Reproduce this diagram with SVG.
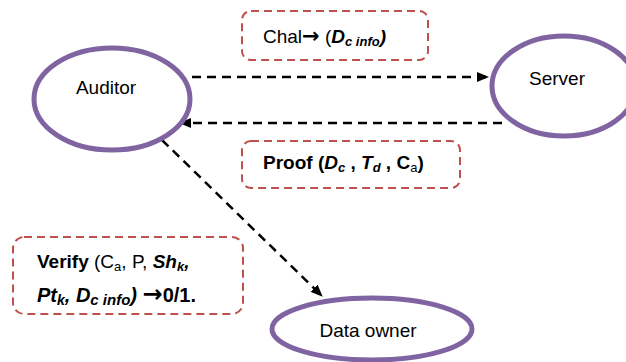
<svg xmlns="http://www.w3.org/2000/svg" width="626" height="362" viewBox="0 0 626 362">
<defs>
<style>
.node{fill:#fff;stroke:#8064A2;stroke-width:5}
.lbl{font-family:"Liberation Sans",Arial,sans-serif;font-size:19px;fill:#000}
.box{fill:none;stroke:#C0504D;stroke-width:2;stroke-dasharray:8 5}
.edge{fill:none;stroke:#000;stroke-width:2.5;stroke-dasharray:9 6}
.t{font-family:"Liberation Sans",Arial,sans-serif;font-size:19px;fill:#000}
.b{font-weight:bold}
.i{font-style:italic}
.s{font-size:13px}
.ar{font-family:"DejaVu Sans",sans-serif;font-weight:bold;font-size:21px}
</style>
<marker id="ah" markerWidth="12" markerHeight="10" refX="11" refY="5" orient="auto" markerUnits="userSpaceOnUse">
<path d="M0,0 L12,5 L0,10 Z" fill="#000"/>
</marker>
</defs>
<g id="connectors">
<line class="edge" x1="192" y1="77" x2="488" y2="77" marker-end="url(#ah)"/>
<line class="edge" x1="502" y1="123" x2="180" y2="123" marker-end="url(#ah)"/>
<line class="edge" x1="162" y1="140" x2="322" y2="296" marker-end="url(#ah)"/>
</g>
<g id="auditor">
<ellipse class="node" cx="112" cy="99" rx="78" ry="51"/>
<text class="lbl" x="106" y="94" text-anchor="middle">Auditor</text>
</g>
<g id="server">
<ellipse class="node" cx="564" cy="86" rx="72" ry="50"/>
<text class="lbl" x="557" y="85" text-anchor="middle">Server</text>
</g>
<g id="data-owner">
<ellipse class="node" cx="372" cy="329" rx="100" ry="31"/>
<text class="lbl" x="368" y="337" text-anchor="middle">Data owner</text>
</g>
<g id="label-chal">
<rect class="box" x="242" y="11" width="186" height="49" rx="9"/>
<text class="t" x="263" y="43">Chal<tspan class="ar">→</tspan> (<tspan class="b i">D</tspan><tspan class="b i s" dy="3">c info</tspan><tspan class="b i" dy="-3">)</tspan></text>
</g>
<g id="label-proof">
<rect class="box" x="242" y="141" width="218" height="47" rx="9"/>
<text class="t b" x="263" y="169">Proof (<tspan class="i">D</tspan><tspan class="i s" dy="3">c</tspan><tspan dy="-3"> , </tspan><tspan class="i">T</tspan><tspan class="i s" dy="3">d</tspan><tspan dy="-3"> , C</tspan><tspan class="s" dy="3" style="font-weight:normal">a</tspan><tspan dy="-3">)</tspan></text>
</g>
<g id="label-verify">
<rect class="box" x="13" y="237" width="230" height="77" rx="11"/>
<text class="t" x="37" y="268"><tspan class="b">Verify</tspan> (C<tspan class="s" dy="3">a</tspan><tspan dy="-3">, P, </tspan><tspan class="b i">Sh</tspan><tspan class="b i s" dy="3">k</tspan><tspan class="b i" dy="-3">,</tspan></text>
<text class="t" x="37" y="302" style="font-size:20px"><tspan class="b i">Pt</tspan><tspan class="b i" dy="3" style="font-size:14px">k</tspan><tspan class="b i" dy="-3">, D</tspan><tspan class="b i" dy="3" style="font-size:15px">c info</tspan><tspan class="b i" dy="-3">)  </tspan><tspan class="ar" style="font-size:24px">→</tspan><tspan class="b">0/1.</tspan></text>
</g>
</svg>
